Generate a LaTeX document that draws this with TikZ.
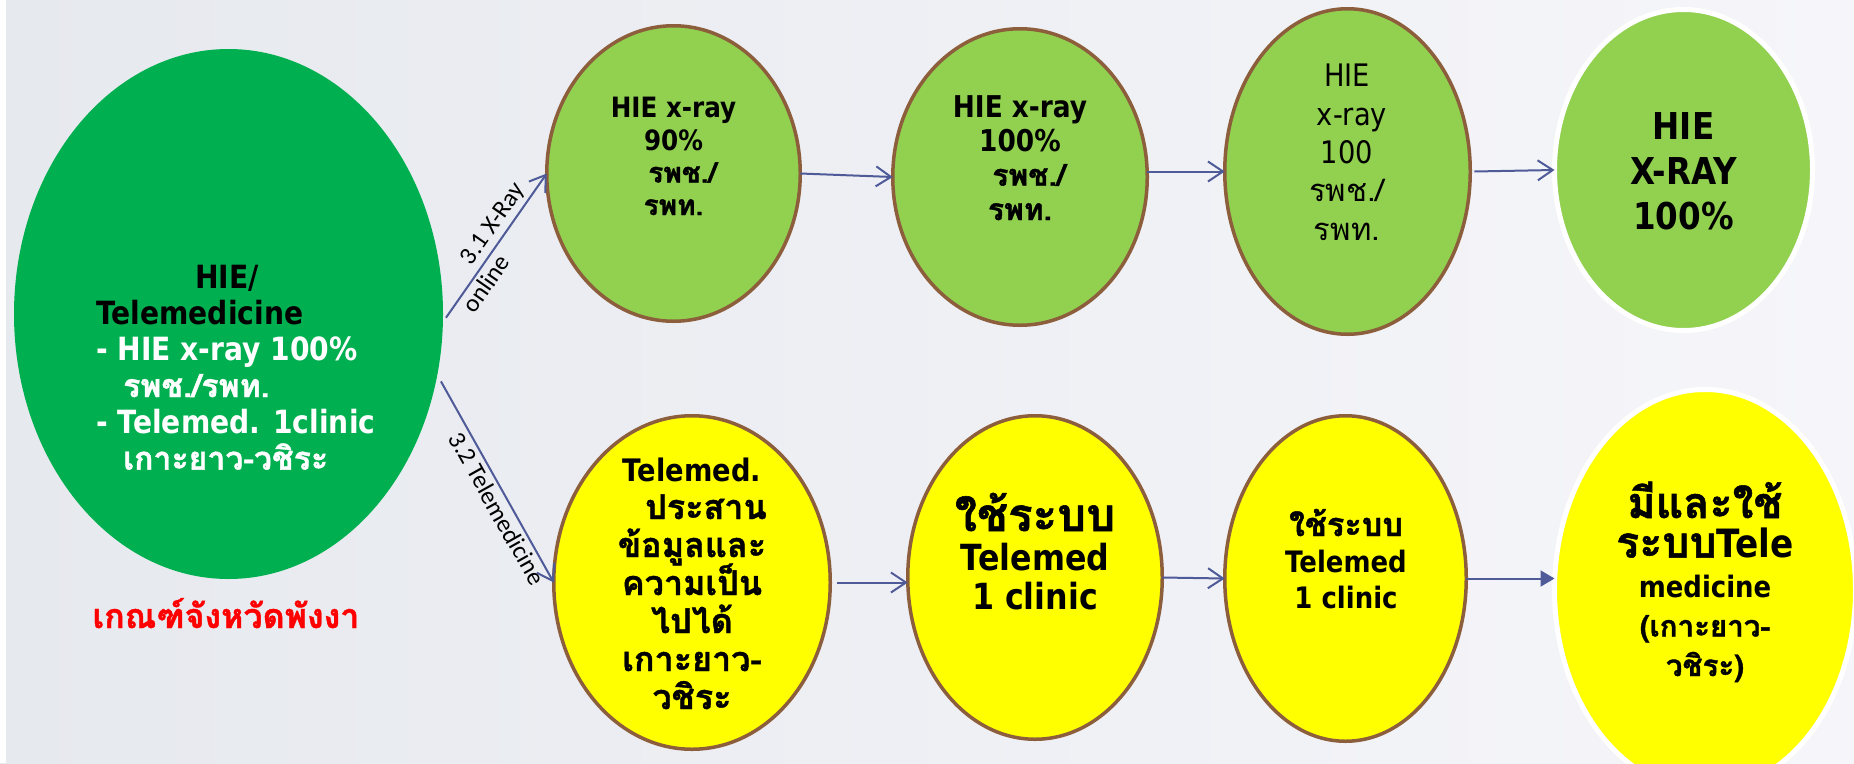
\documentclass[tikz,border=0pt]{standalone}
\usepackage{fontspec}
\setmainfont{DejaVu Sans}[FakeStretch=0.88]
\newfontfamily\thaifont[Script=Thai,BoldFeatures={FakeBold=1.2}]{Loma}
\newfontfamily\thaiL[Script=Thai,Scale=1.1,BoldFeatures={FakeBold=1.2}]{Loma}
\newfontfamily\thaiXL[Script=Thai,Scale=1.27,BoldFeatures={FakeBold=1.2}]{Loma}
\newfontfamily\lblfont{Carlito}
\usetikzlibrary{shapes.geometric,arrows.meta}
\definecolor{bigg}{HTML}{00B050}
\definecolor{lightg}{HTML}{92D050}
\definecolor{yel}{HTML}{FFFF00}
\definecolor{brownb}{HTML}{8C5E3C}
\definecolor{arrowc}{HTML}{4F5A98}
\definecolor{bgl}{HTML}{E6E9EE}
\definecolor{bgr}{HTML}{F6F6FA}
\newcommand{\tf}[1]{{\thaifont #1}}
\newcommand{\tfL}[1]{{\thaiL #1}}
\newcommand{\tfXL}[1]{{\thaiXL #1}}
\setlength{\lineskiplimit}{-100pt}
\begin{document}
\begin{tikzpicture}[x=1pt,y=-1pt,
  oval/.style={ellipse, inner sep=0pt, outer sep=0pt},
  stage/.style={oval, draw=brownb, line width=3.5pt},
  goal/.style={oval, draw=white, line width=5pt},
  conn/.style={draw=arrowc, line width=2pt, -{Straight Barb[length=15pt,width=20pt]}},
  connf/.style={draw=arrowc, line width=2pt, -{Triangle[length=14pt,width=16pt]}},
  txt/.style={anchor=base, align=center, inner sep=0pt, text=black},
  lbl/.style={font=\lblfont\fontsize{25}{27}\selectfont, text=black, sloped}]
\useasboundingbox (0,0) rectangle (1854,763);
\shade[left color=bgl, right color=bgr] (0,0) rectangle (1854,763);
\fill[white] (0,0) rectangle (6,763);
\begin{scope}
\clip (0,0) rectangle (1854,763);
% big node
\node[oval, fill=bigg, minimum width=429pt, minimum height=530pt] (big) at (228.5,314) {};
% top row
\node[stage, fill=lightg, minimum width=253.5pt, minimum height=295.5pt] (t1) at (673.5,173.5) {};
\node[stage, fill=lightg, minimum width=254.5pt, minimum height=296.5pt] (t2) at (1020,177) {};
\node[stage, fill=lightg, minimum width=245.5pt, minimum height=325.5pt] (t3) at (1347.5,171.5) {};
\node[goal, fill=lightg, minimum width=258pt, minimum height=321pt] (t4) at (1683.5,170) {};
% bottom row
\node[stage, fill=yel, minimum width=276.5pt, minimum height=333.5pt] (b1) at (692,582.5) {};
\node[stage, fill=yel, minimum width=254.5pt, minimum height=323.5pt] (b2) at (1035,577.5) {};
\node[stage, fill=yel, minimum width=241.5pt, minimum height=325.5pt] (b3) at (1345.5,578.5) {};
\node[goal, fill=yel, minimum width=301pt, minimum height=401pt] (b4) at (1705,590) {};
\end{scope}
% texts (anchor base = baseline of the last line)
\node[anchor=base west, align=left, inner sep=0pt, font=\fontsize{32}{36.3}\selectfont\bfseries] (bigtxt) at (96,469.6)
 {\hspace*{99pt}HIE/\\Telemedicine\\
  \textcolor{white}{- HIE x-ray 100\%}\\
  \hspace*{27pt}\textcolor{white}{\tf{รพช./รพท.}}\\
  \textcolor{white}{- Telemed. 1clinic}\\
  \hspace*{27pt}\textcolor{white}{\tf{เกาะยาว-วชิระ}}};
\node[txt, text=red, font=\fontsize{34}{36}\selectfont\bfseries] (crit) at (226,628) {\tf{เกณฑ์จังหวัดพังงา}};
\node[txt, font=\fontsize{28}{32.5}\selectfont\bfseries] (t1t) at (673.5,215) {HIE x-ray\\90\%\\\hspace*{18pt}\tf{รพช./}\\\tf{รพท.}};
\node[txt, font=\fontsize{30}{34.3}\selectfont\bfseries] (t2t) at (1020,220) {HIE x-ray\\100\%\\\hspace*{18pt}\tf{รพช./}\\\tf{รพท.}};
\node[txt, font=\fontsize{31}{38.3}\selectfont] (t3t) at (1347,240) {HIE\\\hspace*{10pt}x-ray\\100\\\tf{รพช./}\\\tf{รพท.}};
\node[txt, font=\fontsize{37}{45}\selectfont\bfseries] (t4t) at (1683.5,229) {HIE\\X-RAY\\100\%};
\node[txt, font=\fontsize{31}{38}\selectfont\bfseries] (b1t) at (692,709) {Telemed.\\\hspace*{28pt}\tfL{ประสาน}\\\tfL{ข้อมูลและ}\\\tfL{ความเป็น}\\\tfL{ไปได้}\\\tfL{เกาะยาว-}\\\tfL{วชิระ}};
\node[txt, font=\fontsize{36}{39}\selectfont\bfseries] (b2t) at (1035,609) {\tfXL{ใช้ระบบ}\\Telemed\\1 clinic};
\node[txt, font=\fontsize{29.5}{36}\selectfont\bfseries] (b3t) at (1346,608) {\tfL{ใช้ระบบ}\\Telemed\\1 clinic};
\node[txt, font=\fontsize{29.5}{39.5}\selectfont\bfseries] (b4t) at (1705,676) {{\fontsize{39}{40}\selectfont\tfL{มีและใช้}}\\{\fontsize{39}{40}\selectfont\tfL{ระบบ}Tele}\\medicine\\\tf{(เกาะยาว-}\\\tf{วชิระ)}};
% connectors
\draw[conn] ([xshift=3pt]big.-1.4) -- (t1.west)
  node[lbl, pos=0.59, above] (l31) {3.1 X-Ray}
  node[lbl, pos=0.29, below] (lon) {online};
\draw[conn] ([xshift=5pt]big.-18) -- (b1.west)
  node[lbl, pos=0.6, below] (l32) {3.2 Telemedicine};
\draw[conn] (t1.east) -- (t2.west);
\draw[conn] (t2.east |- t3.west) -- (t3.west);
\draw[conn] ([xshift=4pt]t3.east) -- (t4.west);
\draw[conn] ([xshift=7pt]b1.east) -- (b2.west |- b1.east);
\draw[conn] (b2.east) -- (b3.west);
\draw[connf] (b3.east) -- (b4.west |- b3.east);
\end{tikzpicture}
\end{document}
